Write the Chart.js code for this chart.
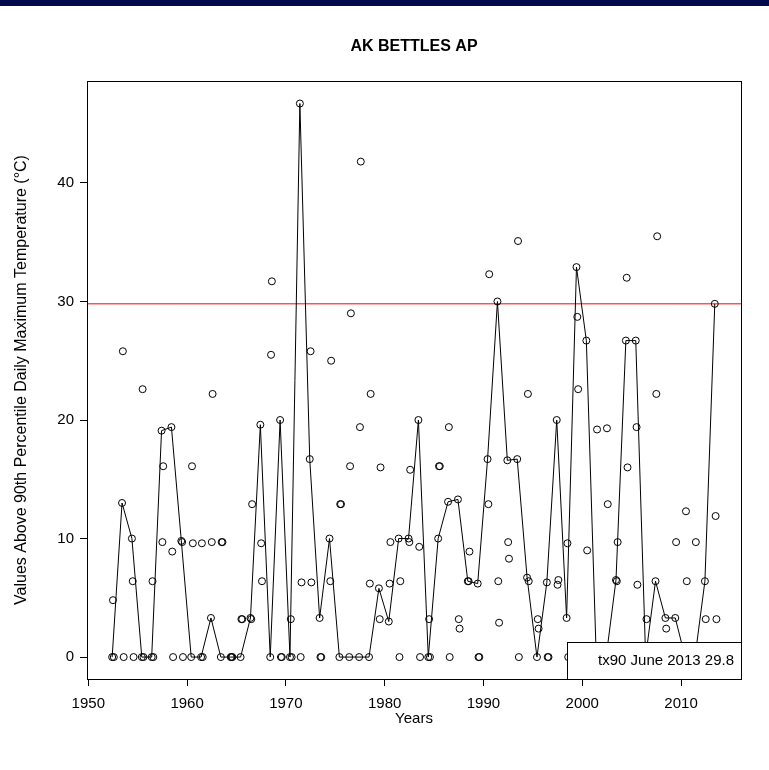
<!DOCTYPE html>
<html>
<head>
<meta charset="utf-8">
<script src="https://cdn.jsdelivr.net/npm/chart.js@4/dist/chart.umd.min.js"></script>
<style>
  html, body { margin: 0; padding: 0; background: #fff; }
  #wrap { position: relative; width: 769px; height: 770px; }
  #bar { position: absolute; left: 0; top: 0; width: 769px; height: 6px; background: #030a4b; }
</style>
</head>
<body>
<div id="wrap">
  <canvas id="chart" width="769" height="770"></canvas>
  <div id="bar"></div>
</div>
<script>
const years = [1952, 1953, 1954, 1955, 1956, 1957, 1958, 1959, 1960, 1961,
  1962, 1963, 1964, 1965, 1966, 1967, 1968, 1969, 1970, 1971,
  1972, 1973, 1974, 1975, 1976, 1977, 1978, 1979, 1980, 1981,
  1982, 1983, 1984, 1985, 1986, 1987, 1988, 1989, 1990, 1991,
  1992, 1993, 1994, 1995, 1996, 1997, 1998, 1999, 2000, 2001,
  2002, 2003, 2004, 2005, 2006, 2007, 2008, 2009, 2010, 2011,
  2012, 2013];

// June values (joined by the line)
const june = [0, 13.0, 10.0, 0, 0, 19.1, 19.4, 9.8, 0, 0,
  3.3, 0, 0, 0, 3.3, 19.6, 0, 20.0, 0, 46.7,
  16.7, 3.3, 10.0, 0, 0, 0, 0, 5.8, 3.0, 10.0,
  10.0, 20.0, 0, 10.0, 13.1, 13.3, 6.4, 6.2, 16.7, 30.0,
  16.6, 16.7, 6.7, 0, 6.3, 20.0, 3.3, 32.9, 26.7, 0,
  0, 6.5, 26.7, 26.7, 0, 6.4, 3.3, 3.3, 0, 0,
  6.4, 29.8];

const july = [4.8, 25.8, 6.4, 22.6, 6.4, 9.7, 8.9, 9.7, 16.1, 9.6,
  9.7, 9.7, 0, 3.2, 3.2, 9.6, 25.5, 0, 3.2, 0,
  25.8, 0, 6.4, 12.9, 16.1, 19.4, 6.2, 3.2, 6.2, 0,
  9.7, 9.3, 3.2, 16.1, 19.4, 3.2, 6.4, 0, 12.9, 6.4,
  9.7, 35.1, 22.2, 3.2, 0, 6.1, 9.6, 28.7, 9.0, 19.2,
  19.3, 6.4, 32.0, 19.4, 3.2, 22.2, 2.4, 9.7, 12.3, 9.7,
  3.2, 11.9];

const august = [0, 0, 0, 0, 0, 16.1, 0, 0, 9.6, 0,
  22.2, 9.7, 0, 3.2, 12.9, 6.4, 31.7, 0, 0, 6.3,
  6.3, 0, 25.0, 12.9, 29.0, 41.8, 22.2, 16.0, 9.7, 6.4,
  15.8, 0, 0, 16.1, 0, 2.4, 8.9, 0, 32.3, 2.9,
  8.3, 0, 6.4, 2.4, 0, 6.5, 0, 22.6, 0, 0,
  12.9, 9.7, 16.0, 6.1, 0, 35.5, 0, 0, 6.4, 0,
  0, 3.2];

const threshold = 29.8;
const xTicks = [1950, 1960, 1970, 1980, 1990, 2000, 2010];
const yTicks = [0, 10, 20, 30, 40];
const mainTitle = 'AK BETTLES AP';
const legendText = 'tx90 June 2013 29.8';

const X_MIN = 1949.87, X_MAX = 2016.07;
const Y_MIN = -1.85, Y_MAX = 48.6;
const FONT = "'Liberation Sans', Arial, Helvetica, sans-serif";

const pts = (vals, off) => years.map((y, i) => ({ x: y + off, y: vals[i] }));

const pointStyle = {
  pointRadius: 3.5,
  pointBorderWidth: 1,
  pointBorderColor: '#000',
  pointBackgroundColor: 'rgba(0,0,0,0)',
  pointHoverRadius: 3.5
};

// box round the plot region, like R's box(), and the title centred over it
const frame = {
  id: 'frame',
  afterDraw(chart) {
    const { ctx, chartArea: a } = chart;
    ctx.save();
    ctx.strokeStyle = '#000';
    ctx.lineWidth = 1;
    ctx.strokeRect(Math.round(a.left) + 0.5, Math.round(a.top) + 0.5,
      Math.round(a.right - a.left), Math.round(a.bottom - a.top));
    ctx.fillStyle = '#000';
    ctx.font = 'bold 16px ' + FONT;
    ctx.textAlign = 'center';
    ctx.textBaseline = 'middle';
    ctx.fillText(mainTitle, (a.left + a.right) / 2, 47);
    ctx.restore();
  }
};

// bottom-right legend box
const legendBox = {
  id: 'legendBox',
  afterDatasetsDraw(chart) {
    const { ctx, chartArea: a } = chart;
    const w = 174, h = 37;
    const left = Math.round(a.right - w), top = Math.round(a.bottom - h);
    ctx.save();
    ctx.fillStyle = '#fff';
    ctx.fillRect(left, top, w, h);
    ctx.strokeStyle = '#000';
    ctx.lineWidth = 1;
    ctx.strokeRect(left + 0.5, top + 0.5, w, h);
    ctx.fillStyle = '#000';
    ctx.font = '15px ' + FONT;
    ctx.textAlign = 'right';
    ctx.textBaseline = 'middle';
    ctx.fillText(legendText, a.right - 7, top + 19);
    ctx.restore();
  }
};

new Chart(document.getElementById('chart'), {
  type: 'scatter',
  data: {
    datasets: [
      Object.assign({ label: 'June', data: pts(june, 5 / 12), showLine: true,
        borderColor: '#000', borderWidth: 1, tension: 0 }, pointStyle),
      Object.assign({ label: 'July', data: pts(july, 6 / 12), showLine: false }, pointStyle),
      Object.assign({ label: 'August', data: pts(august, 7 / 12), showLine: false }, pointStyle),
      { label: 'threshold', data: [{ x: X_MIN, y: threshold }, { x: X_MAX, y: threshold }],
        showLine: true, borderColor: '#ff0000', borderWidth: 1, pointRadius: 0 }
    ]
  },
  options: {
    responsive: false,
    animation: false,
    events: [],
    layout: { padding: { left: 0, top: 81, right: 28, bottom: 0 } },
    plugins: {
      legend: { display: false },
      tooltip: { enabled: false },
      title: { display: false }
    },
    scales: {
      x: {
        type: 'linear',
        min: X_MIN, max: X_MAX,
        afterBuildTicks: s => { s.ticks = xTicks.map(v => ({ value: v })); },
        afterFit: s => { s.height = 91; },
        ticks: { callback: v => String(v), color: '#000', padding: 9, maxRotation: 0,
          font: { family: FONT, size: 15 } },
        grid: { drawOnChartArea: false, drawTicks: true, tickLength: 7, color: '#000' },
        border: { display: true, color: '#000' },
        title: { display: true, text: 'Years', color: '#000',
          font: { family: FONT, size: 15 }, padding: { top: 0, bottom: 42 } }
      },
      y: {
        type: 'linear',
        min: Y_MIN, max: Y_MAX,
        afterBuildTicks: s => { s.ticks = yTicks.map(v => ({ value: v })); },
        afterFit: s => { s.width = 87; },
        ticks: { callback: v => String(v), color: '#000', padding: 6,
          font: { family: FONT, size: 15 } },
        grid: { drawOnChartArea: false, drawTicks: true, tickLength: 7, color: '#000' },
        border: { display: true, color: '#000' },
        title: { display: true, text: 'Values Above 90th Percentile Daily Maximum Temperature (°C)',
          color: '#000', font: { family: FONT, size: 16 }, padding: { top: 12, bottom: 0 } }
      }
    }
  },
  plugins: [legendBox, frame]
});
</script>
</body>
</html>
